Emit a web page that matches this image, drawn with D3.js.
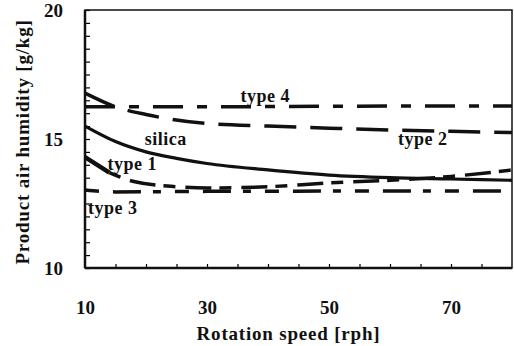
<!DOCTYPE html>
<html>
<head>
<meta charset="utf-8">
<script src="https://cdn.jsdelivr.net/npm/d3@7"></script>
<style>
  body { margin: 0; background: #fff; }
  text { font-family: "Liberation Serif", "Times New Roman", serif; fill: #111; font-weight: bold; }
  .tick text { font-size: 19px; }
  .lbl { font-size: 18px; letter-spacing: 0.5px; }
  .axisTitle { font-size: 19px; letter-spacing: 0.8px; }
</style>
</head>
<body>
<div id="chart"></div>
<script>
  // data
  const xTicks = [10, 30, 50, 70];
  const yTicks = [10, 15, 20];
  const speed = [10, 15, 20, 25, 30, 40, 50, 60, 70, 80];
  const silica = [15.5, 14.9, 14.5, 14.25, 14.05, 13.8, 13.6, 13.5, 13.45, 13.4];
  const type1Start = [[10, 14.3], [14, 13.7]];
  const type1 = [[14, 13.7], [18, 13.35], [25, 13.15], [30, 13.1], [40, 13.15], [50, 13.3], [60, 13.4], [70, 13.55], [80, 13.8]];
  const type2 = [[10, 16.78], [15, 16.25], [20, 15.95], [30, 15.6], [40, 15.5], [50, 15.42], [60, 15.35], [70, 15.3], [80, 15.25]];
  const type3 = [[10, 13.02], [15, 12.95], [30, 12.97], [50, 12.98], [80, 12.98]];
  const type4 = [[10, 16.25], [30, 16.25], [50, 16.27], [80, 16.28]];
  const labels = [
    { text: "type 4", x: 35.5, y: 16.45 },
    { text: "silica", x: 19.8, y: 14.75 },
    { text: "type 1", x: 13.7, y: 13.8 },
    { text: "type 2", x: 61.3, y: 14.75 },
    { text: "type 3", x: 10.5, y: 12.1 }
  ];

  const W = 514, H = 346;
  const margin = { top: 10, left: 85, right: 2, bottom: 78 };
  const width = W - margin.left - margin.right,
    height = H - margin.top - margin.bottom;

  const svg = d3.select("#chart").append("svg")
    .attr("width", W).attr("height", H)
    .append("g")
    .attr("transform", "translate(" + margin.left + "," + margin.top + ")");

  const x = d3.scaleLinear().domain([10, 80]).range([0, width]);
  const y = d3.scaleLinear().domain([10, 20]).range([height, 0]);

  // minor ticks, inward
  svg.append("g")
    .call(d3.axisLeft(y).tickValues(d3.range(10, 20.01, 0.5)).tickSize(-5).tickFormat(""))
    .call(g => g.select(".domain").remove())
    .selectAll("line").attr("stroke-width", 1.2);
  svg.append("g")
    .attr("transform", "translate(0," + height + ")")
    .call(d3.axisBottom(x).tickValues(d3.range(15, 80, 5)).tickSize(-4).tickFormat(""))
    .call(g => g.select(".domain").remove())
    .selectAll("line").attr("stroke-width", 1.2);

  // tick labels
  svg.append("g")
    .call(d3.axisLeft(y).tickValues(yTicks).tickSize(0).tickPadding(22))
    .call(g => g.select(".domain").remove());
  svg.append("g")
    .attr("transform", "translate(0," + height + ")")
    .call(d3.axisBottom(x).tickValues(xTicks).tickSize(0).tickPadding(33))
    .call(g => g.select(".domain").remove());

  // frame
  svg.append("rect").attr("width", width).attr("height", height)
    .attr("fill", "none").attr("stroke", "#111").attr("stroke-width", 1.5);
  svg.append("line").attr("x1", 0).attr("x2", 0).attr("y1", 0).attr("y2", height)
    .attr("stroke", "#111").attr("stroke-width", 2.5);
  svg.append("line").attr("x1", 0).attr("x2", width).attr("y1", height).attr("y2", height)
    .attr("stroke", "#111").attr("stroke-width", 2.5);

  const line = d3.line().x(d => x(d[0])).y(d => y(d[1])).curve(d3.curveMonotoneX);

  const series = [
    { data: type4, dash: "30,14,10,14", w: 3.5 },
    { data: type2, dash: "32,14", w: 3.5 },
    { data: speed.map((s, i) => [s, silica[i]]), dash: null, w: 3.2 },
    { data: type1Start, dash: null, w: 4.5 },
    { data: type1, dash: "12,10,26,8", w: 3.5 },
    { data: type3, dash: "14,14,28,12,8,14", w: 3.5 }
  ];
  svg.selectAll(".series").data(series).enter().append("path")
    .attr("class", "series")
    .attr("d", d => line(d.data))
    .attr("fill", "none")
    .attr("stroke", "#111")
    .attr("stroke-width", d => d.w)
    .attr("stroke-dasharray", d => d.dash);

  svg.selectAll(".lbl").data(labels).enter().append("text")
    .attr("class", "lbl")
    .attr("x", d => x(d.x)).attr("y", d => y(d.y))
    .text(d => d.text);

  // axis titles
  svg.append("text").attr("class", "axisTitle")
    .attr("text-anchor", "middle")
    .attr("x", width / 2 - 10).attr("y", height + 72)
    .text("Rotation speed [rph]");
  svg.append("text").attr("class", "axisTitle")
    .attr("text-anchor", "middle")
    .attr("transform", "translate(" + (-margin.left + 29) + "," + (height / 2 + 3) + ") rotate(-90)")
    .text("Product air humidity [g/kg]");
</script>
</body>
</html>
